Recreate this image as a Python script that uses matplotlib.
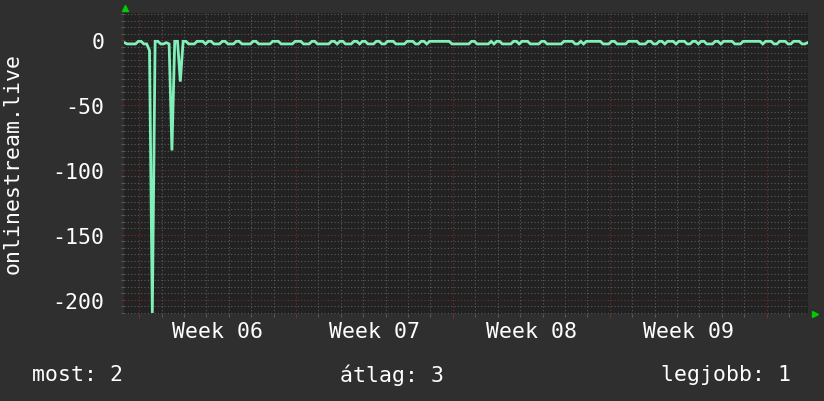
import matplotlib
matplotlib.use("Agg")
import matplotlib.pyplot as plt
import matplotlib.dates as mdates
from matplotlib.ticker import MultipleLocator
import pandas as pd

# rank values, one sample every 3 hours (one row = one day)
rank = [
    -2, -3, -3, -3, -3, -1, -1, -3,
    -3, -8, -210, -1, -1, -3, -3, -2,
    -3, -85, -1, -1, -32, -1, -1, -3,
    -3, -3, -1, -1, -1, -3, -1, -1,
    -3, -3, -3, -1, -1, -3, -3, -3,
    -1, -1, -3, -3, -3, -3, -1, -1,
    -3, -3, -3, -3, -3, -1, -1, -1,
    -3, -3, -3, -3, -3, -1, -1, -1,
    -3, -3, -3, -1, -1, -3, -3, -3,
    -3, -3, -1, -1, -3, -1, -1, -3,
    -3, -3, -1, -1, -3, -1, -1, -3,
    -3, -3, -1, -1, -3, -3, -1, -1,
    -1, -3, -3, -3, -3, -1, -1, -1,
    -3, -3, -1, -1, -3, -1, -1, -1,
    -1, -1, -1, -1, -1, -3, -3, -3,
    -3, -3, -3, -3, -1, -1, -3, -3,
    -3, -3, -3, -1, -3, -1, -1, -3,
    -3, -3, -3, -1, -1, -3, -1, -1,
    -1, -3, -3, -3, -3, -1, -1, -3,
    -3, -3, -3, -3, -3, -1, -1, -1,
    -1, -3, -3, -1, -3, -1, -1, -1,
    -1, -1, -1, -3, -3, -3, -1, -1,
    -3, -3, -3, -3, -1, -1, -1, -1,
    -3, -3, -3, -1, -1, -3, -3, -1,
    -1, -3, -1, -1, -1, -3, -1, -1,
    -1, -3, -3, -1, -1, -3, -1, -1,
    -3, -3, -3, -1, -1, -3, -1, -1,
    -1, -1, -3, -3, -3, -1, -1, -1,
    -1, -1, -1, -1, -3, -1, -1, -1,
    -3, -3, -1, -1, -1, -3, -3, -1,
    -1, -1, -3, -3, -2,
]
start = pd.Timestamp("2024-02-04 08:00")
times = pd.date_range(start, periods=len(rank), freq="3h")

y_label = "onlinestream.live"
stat_labels = ["most: 2", "átlag: 3", "legjobb: 1"]

bg = "#2f2f2f"
plot_bg = "#222222"
line_col = "#80f0b8"
major_col = "#7a2c2c"
minor_col = "#5a5a5a"
txt_col = "white"
fs = 15.5

plt.rcParams["font.family"] = ["DejaVu Sans Mono"]
plt.rcParams["axes.unicode_minus"] = False

fig = plt.figure(figsize=(8.24, 4.02), dpi=100, facecolor=bg)
ax = fig.add_axes([124 / 824, 1 - 315 / 402, 684 / 824, 301 / 402], facecolor=plot_bg)

ax.plot(times, rank, color=line_col, lw=2.0, solid_joinstyle="miter", zorder=3)

ax.set_xlim(pd.Timestamp("2024-02-04 07:40"), pd.Timestamp("2024-03-05 20:24"))
ax.set_ylim(-210.8, 20.8)

# grid
ax.xaxis.set_major_locator(mdates.WeekdayLocator(byweekday=mdates.MO))
ax.xaxis.set_minor_locator(mdates.DayLocator())
ax.xaxis.set_major_formatter(plt.NullFormatter())
ax.yaxis.set_major_locator(MultipleLocator(50))
ax.yaxis.set_minor_locator(MultipleLocator(5))
ax.grid(which="minor", color=minor_col, lw=0.8, linestyle=(0, (1, 2)), zorder=1)
ax.grid(which="major", color=major_col, lw=0.8, linestyle=(0, (1, 2)), zorder=2)

ax.tick_params(which="both", direction="out", length=2, width=0.8, colors=minor_col,
               labelcolor=txt_col, labelsize=fs)
ax.tick_params(which="major", colors=major_col, labelcolor=txt_col, pad=12)
ax.tick_params(axis="x", which="major", length=3)
for s in ax.spines.values():
    s.set_visible(False)

# week labels centered in each week
mondays = pd.date_range("2024-02-05", periods=4, freq="7D")
for m in mondays:
    ax.text(m + pd.Timedelta(days=3.5), -0.055, "Week %02d" % m.isocalendar().week,
            transform=ax.get_xaxis_transform(), ha="center", va="center",
            color=txt_col, fontsize=fs)

fig.text(13 / 824, 1 - 164 / 402, y_label, rotation=90, ha="center", va="center",
         color=txt_col, fontsize=fs)

# summary line
fig.text(32 / 824, 1 - 375 / 402, stat_labels[0], ha="left", va="center", color=txt_col, fontsize=fs)
fig.text(392 / 824, 1 - 375 / 402, stat_labels[1], ha="center", va="center", color=txt_col, fontsize=fs)
fig.text(791 / 824, 1 - 375 / 402, stat_labels[2], ha="right", va="center", color=txt_col, fontsize=fs)

# little green arrows at the axis ends
ax.plot([0.002], [1.015], marker="^", color="#00cc00", ms=5, transform=ax.transAxes, clip_on=False)
ax.plot([1.01], [0.0], marker=">", color="#00cc00", ms=5, transform=ax.transAxes, clip_on=False)

fig.savefig("out.png", dpi=100, facecolor=bg)
